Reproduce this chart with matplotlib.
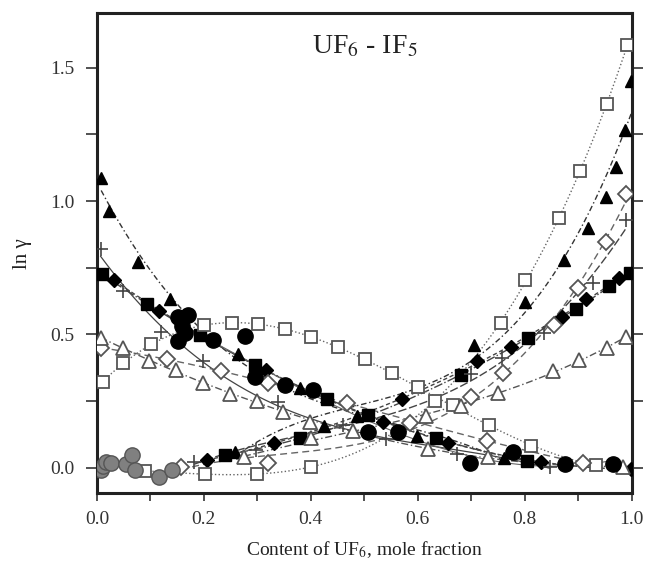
import numpy as np
import matplotlib
matplotlib.use("Agg")
import matplotlib.pyplot as plt

plt.rcParams['font.family'] = ['Liberation Serif', 'DejaVu Serif']
plt.rcParams['mathtext.fontset'] = 'stix'

# ln(gamma) of UF6 (falling) and IF5 (rising) for each data set
tri_f_dn_x = [0.008, 0.023, 0.077, 0.136, 0.264, 0.379, 0.486, 0.599, 0.761]
tri_f_dn_y = [1.085, 0.964, 0.772, 0.631, 0.426, 0.298, 0.195, 0.120, 0.035]
tri_f_up_x = [0.258, 0.424, 0.705, 0.801, 0.873, 0.918, 0.951, 0.970, 0.988, 0.999]
tri_f_up_y = [0.058, 0.156, 0.460, 0.620, 0.779, 0.900, 1.016, 1.129, 1.266, 1.451]

sq_f_dn_x = [0.009, 0.094, 0.193, 0.295, 0.430, 0.507, 0.634, 0.804]
sq_f_dn_y = [0.726, 0.614, 0.498, 0.385, 0.258, 0.198, 0.110, 0.026]
sq_f_up_x = [0.239, 0.379, 0.680, 0.806, 0.895, 0.958, 0.997]
sq_f_up_y = [0.048, 0.110, 0.348, 0.487, 0.594, 0.681, 0.729]

dia_f_dn_x = [0.032, 0.116, 0.317, 0.534, 0.657, 0.831, 0.999]
dia_f_dn_y = [0.704, 0.588, 0.366, 0.173, 0.094, 0.022, -0.006]
dia_f_up_x = [0.206, 0.331, 0.571, 0.710, 0.774, 0.870, 0.915, 0.976]
dia_f_up_y = [0.029, 0.091, 0.258, 0.401, 0.451, 0.566, 0.631, 0.710]

plus_dn_x = [0.007, 0.049, 0.119, 0.199, 0.339, 0.460, 0.541, 0.674, 0.847]
plus_dn_y = [0.819, 0.664, 0.510, 0.401, 0.245, 0.160, 0.106, 0.050, 0.004]
plus_up_x = [0.182, 0.298, 0.700, 0.758, 0.836, 0.928, 0.990]
plus_up_y = [0.023, 0.066, 0.351, 0.410, 0.506, 0.691, 0.929]

sq_o_a_x = [0.011, 0.049, 0.102, 0.200, 0.252, 0.301, 0.351, 0.401, 0.451, 0.501,
            0.551, 0.601, 0.665, 0.733, 0.811, 0.933]
sq_o_a_y = [0.322, 0.391, 0.463, 0.535, 0.544, 0.539, 0.519, 0.489, 0.451, 0.406,
            0.354, 0.301, 0.235, 0.160, 0.081, 0.010]
sq_o_b_x = [0.090, 0.202, 0.300, 0.401, 0.632, 0.755, 0.801, 0.863, 0.904, 0.954, 0.991]
sq_o_b_y = [-0.012, -0.024, -0.024, 0.004, 0.250, 0.544, 0.704, 0.935, 1.112, 1.363, 1.585]

dia_o_dn_x = [0.007, 0.131, 0.232, 0.320, 0.468, 0.730, 0.909]
dia_o_dn_y = [0.450, 0.406, 0.363, 0.319, 0.241, 0.101, 0.016]
dia_o_up_x = [0.158, 0.320, 0.585, 0.700, 0.759, 0.855, 0.900, 0.951, 0.990]
dia_o_up_y = [0.004, 0.019, 0.169, 0.264, 0.354, 0.535, 0.673, 0.848, 1.025]

tri_o_dn_x = [0.007, 0.049, 0.098, 0.148, 0.199, 0.249, 0.299, 0.348, 0.398, 0.479,
              0.619, 0.731, 0.984]
tri_o_dn_y = [0.487, 0.448, 0.401, 0.366, 0.319, 0.275, 0.251, 0.210, 0.172, 0.139,
              0.069, 0.039, 0.004]
tri_o_up_x = [0.275, 0.400, 0.615, 0.680, 0.750, 0.852, 0.901, 0.953, 0.990]
tri_o_up_y = [0.039, 0.110, 0.194, 0.232, 0.279, 0.364, 0.404, 0.448, 0.489]

circ_x = [0.152, 0.171, 0.160, 0.164, 0.152, 0.217, 0.277, 0.295, 0.351, 0.404,
          0.507, 0.563, 0.697, 0.777, 0.876, 0.965]
circ_y = [0.566, 0.573, 0.530, 0.505, 0.476, 0.479, 0.494, 0.339, 0.310, 0.291,
          0.133, 0.135, 0.019, 0.060, 0.013, 0.013]

gcirc_x = [0.008, 0.012, 0.017, 0.027, 0.054, 0.066, 0.071, 0.116, 0.140]
gcirc_y = [-0.010, 0.005, 0.022, 0.016, 0.012, 0.046, -0.008, -0.036, -0.009]

fig = plt.figure(figsize=(6.46, 5.65), dpi=100)
ax = fig.add_axes([0.150, 0.1274, 0.828, 0.849])


def fit_line(x, y, ls, color, deg=3, lw=1.0):
    c = np.polyfit(x, y, deg)
    xx = np.linspace(min(x), max(x), 200)
    ax.plot(xx, np.polyval(c, xx), ls=ls, color=color, lw=lw, zorder=1)


black = dict(color='black', mec='black', ls='none', zorder=3)
hollow = dict(mfc='white', mec='#555555', mew=1.3, ls='none', zorder=3)

# filled triangles
fit_line(tri_f_dn_x, tri_f_dn_y, (0, (4, 2, 1, 2)), '#333333')
fit_line(tri_f_up_x, tri_f_up_y, (0, (4, 2, 1, 2)), '#333333')
ax.plot(tri_f_dn_x, tri_f_dn_y, marker='^', ms=9, **black)
ax.plot(tri_f_up_x, tri_f_up_y, marker='^', ms=9, **black)

# filled squares
fit_line(sq_f_dn_x, sq_f_dn_y, '-.', '#444444')
fit_line(sq_f_up_x, sq_f_up_y, '-.', '#444444')
ax.plot(sq_f_dn_x, sq_f_dn_y, marker='s', ms=8, **black)
ax.plot(sq_f_up_x, sq_f_up_y, marker='s', ms=8, **black)

# filled diamonds
fit_line(dia_f_dn_x, dia_f_dn_y, (0, (3, 2)), '#444444')
fit_line(dia_f_up_x, dia_f_up_y, (0, (3, 2)), '#444444')
ax.plot(dia_f_dn_x, dia_f_dn_y, marker='D', ms=7, **black)
ax.plot(dia_f_up_x, dia_f_up_y, marker='D', ms=7, **black)

# plus
fit_line(plus_dn_x, plus_dn_y, '-', '#444444', lw=0.9)
fit_line(plus_up_x, plus_up_y, (0, (6, 2)), '#444444')
ax.plot(plus_dn_x, plus_dn_y, marker='+', ms=10, mew=1.2, color='#444444', ls='none', zorder=3)
ax.plot(plus_up_x, plus_up_y, marker='+', ms=10, mew=1.2, color='#444444', ls='none', zorder=3)

# open squares
fit_line(sq_o_a_x, sq_o_a_y, ':', '#666666', deg=4)
fit_line(sq_o_b_x, sq_o_b_y, ':', '#666666', deg=4)
ax.plot(sq_o_a_x, sq_o_a_y, marker='s', ms=9, **hollow)
ax.plot(sq_o_b_x, sq_o_b_y, marker='s', ms=9, **hollow)

# open diamonds
fit_line(dia_o_dn_x, dia_o_dn_y, (0, (5, 3)), '#666666')
fit_line(dia_o_up_x, dia_o_up_y, (0, (5, 3)), '#666666')
ax.plot(dia_o_dn_x, dia_o_dn_y, marker='D', ms=8, **hollow)
ax.plot(dia_o_up_x, dia_o_up_y, marker='D', ms=8, **hollow)

# open triangles
fit_line(tri_o_dn_x, tri_o_dn_y, (0, (5, 2, 1, 2)), '#555555')
fit_line(tri_o_up_x, tri_o_up_y, (0, (5, 2, 1, 2)), '#555555')
ax.plot(tri_o_dn_x, tri_o_dn_y, marker='^', ms=10, **hollow)
ax.plot(tri_o_up_x, tri_o_up_y, marker='^', ms=10, **hollow)

# filled circles
fit_line(circ_x, circ_y, '-', '#666666', lw=0.8)
ax.plot(circ_x, circ_y, marker='o', ms=11, **black)

# grey circles at low UF6 content
ax.plot(gcirc_x, gcirc_y, marker='o', ms=11, mfc='#808080', mec='#555555', mew=1.0,
        ls='none', zorder=3)

ax.set_xlim(0, 1.0)
ax.set_ylim(-0.095, 1.704)
ax.set_xticks(np.arange(0, 1.01, 0.2))
ax.set_xticks(np.arange(0, 1.01, 0.1), minor=True)
ax.set_xticklabels(['0.0', '0.2', '0.4', '0.6', '0.8', '1.0'])
ax.set_yticks([0, 0.5, 1.0, 1.5])
ax.set_yticks([0.25, 0.75, 1.25], minor=True)
ax.set_yticklabels(['0.0', '0.5', '1.0', '1.5'])
ax.tick_params(which='both', direction='out', labelsize=14, width=1.2, colors='#333333',
               labelcolor='#333333')
ax.tick_params(axis='y', which='both', length=8, right=True, pad=8)
ax.tick_params(axis='x', which='both', length=6, pad=7)
for s in ax.spines.values():
    s.set_linewidth(2.2)
    s.set_color('#222222')

ax.text(0.5, 1.58, 'UF$_6$ - IF$_5$', fontsize=20, ha='center', va='center', color='#222222')
ax.set_xlabel('Content of UF$_6$, mole fraction', fontsize=14, labelpad=8, color='#222222')
ax.set_ylabel('ln γ', fontsize=15, labelpad=13, color='#222222')

fig.savefig('out.png', dpi=100)
